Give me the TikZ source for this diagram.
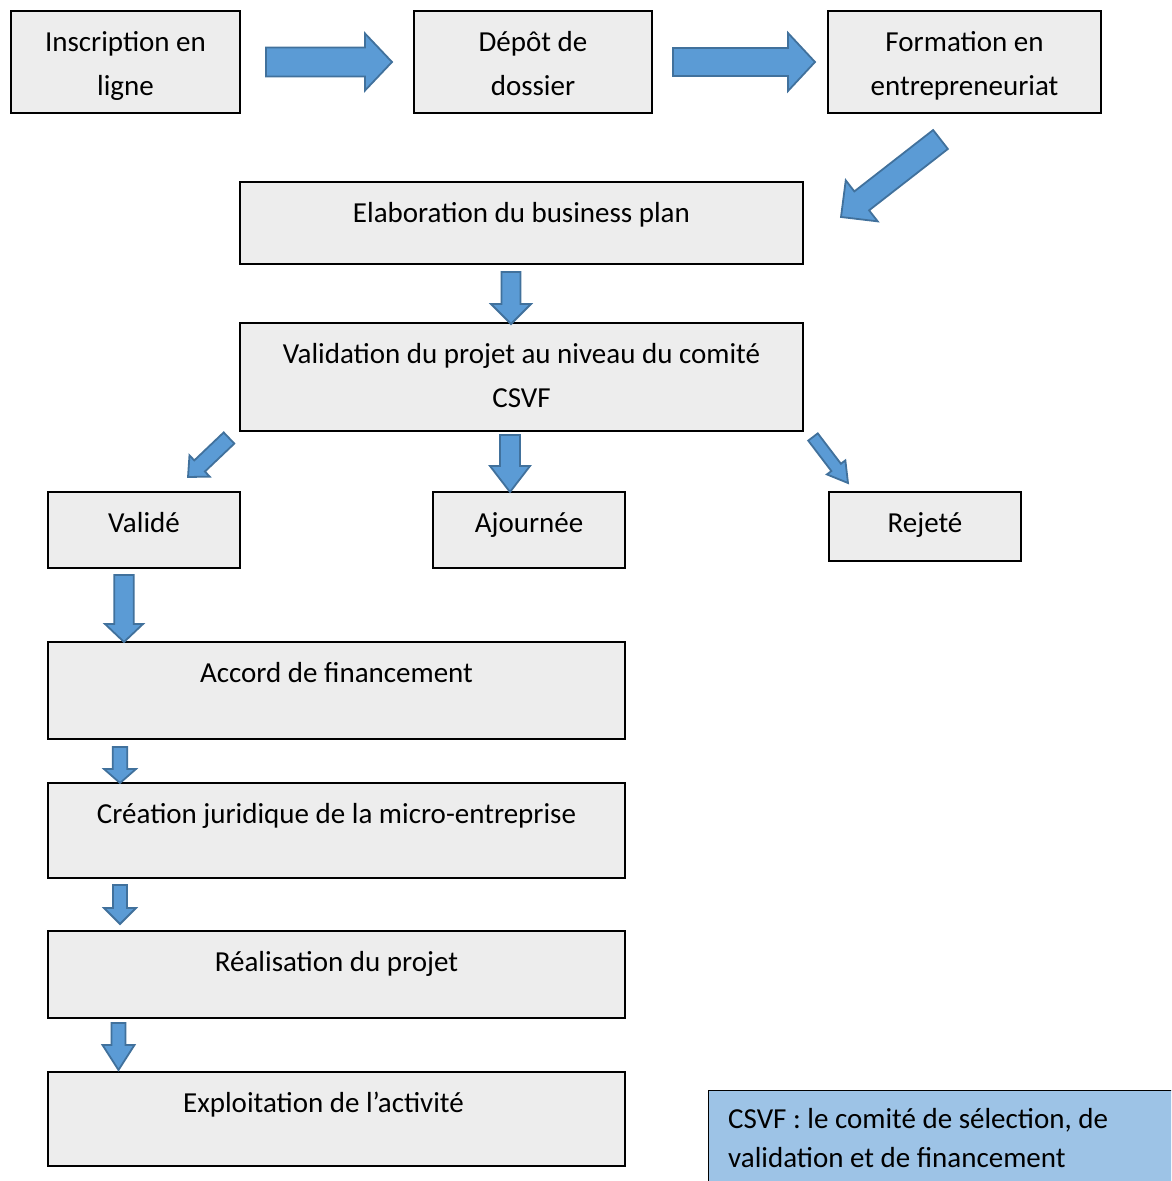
\documentclass[tikz,border=0pt]{standalone}
\usepackage{fontspec}
\setmainfont{Carlito}
\usetikzlibrary{calc,positioning}

\definecolor{boxgray}{HTML}{EDEDED}
\definecolor{arrowfill}{HTML}{5B9BD5}
\definecolor{arrowline}{HTML}{41719C}
\definecolor{notefill}{HTML}{9DC3E6}

\tikzset{
  stagebox/.style={draw, line width=2.4pt, fill=boxgray, inner sep=0pt, outer sep=0pt, anchor=north west},
  boxtext/.style={anchor=north, yshift=-9.2pt, inner sep=0pt, align=center,
    font=\fontsize{29}{44}\selectfont},
  notetext/.style={anchor=north west, xshift=20pt, yshift=-10.7pt, inner sep=0pt, align=left,
    font=\fontsize{29}{39}\selectfont},
  % block arrow: #1 half shaft, #2 half head, #3 head length
  fatarrow/.style n args={3}{draw=arrowline, fill=arrowfill, line width=1.8pt,
    to path={let \p1=(\tikztostart), \p2=(\tikztotarget),
      \n1={atan2(\y2-\y1,\x2-\x1)}, \n2={veclen(\x2-\x1,\y2-\y1)} in
      ($(\p1)+({\n1+90}:#1)$)
      -- ($(\p1)+(\n1:{\n2-#3})+({\n1+90}:#1)$)
      -- ($(\p1)+(\n1:{\n2-#3})+({\n1+90}:#2)$)
      -- (\p2)
      -- ($(\p1)+(\n1:{\n2-#3})+({\n1-90}:#2)$)
      -- ($(\p1)+(\n1:{\n2-#3})+({\n1-90}:#1)$)
      -- ($(\p1)+({\n1-90}:#1)$) -- cycle}}
}

\begin{document}
\begin{tikzpicture}[x=1pt, y=1pt]
\clip (0,0) rectangle (1171,-1181);

% top row
\node[stagebox, minimum width=229pt, minimum height=102pt,
  label={[boxtext]north:{\strut Inscription en\\ligne}}] (ins) at (11,-11) {};
\node[stagebox, minimum width=238pt, minimum height=102pt,
  label={[boxtext]north:{\strut Dépôt de\\dossier}}] (dep) at (414,-11) {};
\node[stagebox, minimum width=273pt, minimum height=102pt,
  label={[boxtext]north:{\strut Formation en\\entrepreneuriat}}] (form) at (828,-11) {};

% business plan and committee
\node[stagebox, minimum width=563pt, minimum height=82pt,
  label={[boxtext]north:{\strut Elaboration du business plan}}] (elab) at (240,-182) {};
\node[stagebox, minimum width=563pt, minimum height=108pt,
  label={[boxtext]north:{\strut Validation du projet au niveau du comité\\CSVF}}] (valid) at (240,-323) {};

% decisions
\node[stagebox, minimum width=192pt, minimum height=76pt,
  label={[boxtext]north:{\strut Validé}}] (ok) at (48,-492) {};
\node[stagebox, minimum width=192pt, minimum height=76pt,
  label={[boxtext]north:{\strut Ajournée}}] (ajourn) at (433,-492) {};
\node[stagebox, minimum width=192pt, minimum height=69pt,
  label={[boxtext]north:{\strut Rejeté}}] (rejet) at (829,-492) {};

% after validation
\node[stagebox, minimum width=577pt, minimum height=97pt,
  label={[boxtext]north:{\strut Accord de financement}}] (accord) at (48,-642) {};
\node[stagebox, minimum width=577pt, minimum height=95pt,
  label={[boxtext]north:{\strut Création juridique de la micro-entreprise}}] (creat) at (48,-783) {};
\node[stagebox, minimum width=577pt, minimum height=87pt,
  label={[boxtext]north:{\strut Réalisation du projet}}] (real) at (48,-931) {};
\node[stagebox, minimum width=577pt, minimum height=94pt,
  label={[boxtext, xshift=-13pt]north:{\strut Exploitation de l’activité}}] (exploit) at (48,-1072) {};

% note
\node[draw, line width=1pt, fill=notefill, inner sep=0pt, outer sep=0pt, anchor=north west,
  minimum width=480pt, minimum height=110pt,
  label={[notetext]north west:{\strut CSVF : le comité de sélection, de\\validation et de financement}}]
  (note) at (708,-1090) {};

% arrows
\draw[fatarrow={14.5}{28.5}{27}] ([xshift=26pt]ins.east) to ([xshift=-22pt]dep.west);
\draw[fatarrow={14}{29}{27}] ([xshift=21pt]dep.east) to ([xshift=-13pt]form.west);
\draw[fatarrow={12}{26}{26}] ([xshift=-24pt,yshift=-26.5pt]form.south) to ([xshift=38pt,yshift=6pt]elab.east);
\draw[fatarrow={9.5}{20}{20}] ([xshift=-10.5pt,yshift=-8pt]elab.south) to ([xshift=-10.5pt,yshift=-1pt]valid.north);
\draw[fatarrow={7.7}{14.7}{16}] ([xshift=-11pt,yshift=-7pt]valid.south west) to ([xshift=44pt,yshift=15pt]ok.north);
\draw[fatarrow={10}{20}{26}] ([xshift=-11.5pt,yshift=-4pt]valid.south) to ([xshift=-19pt]ajourn.north);
\draw[fatarrow={6}{11.6}{19.6}] ([xshift=10pt,yshift=-6pt]valid.south east) to ([xshift=19pt,yshift=9pt]rejet.north west);
\draw[fatarrow={9.7}{19}{18}] ([xshift=-20pt,yshift=-7pt]ok.south) to ([xshift=76pt]accord.north west);
\draw[fatarrow={7.3}{16}{14}] ([xshift=72pt,yshift=-8pt]accord.south west) to ([xshift=72pt]creat.north west);
\draw[fatarrow={7}{16}{16}] ([xshift=72pt,yshift=-7pt]creat.south west) to ([xshift=72pt,yshift=7pt]real.north west);
\draw[fatarrow={7}{16}{25}] ([xshift=70.5pt,yshift=-5pt]real.south west) to ([xshift=70.5pt,yshift=2pt]exploit.north west);
\end{tikzpicture}
\end{document}
